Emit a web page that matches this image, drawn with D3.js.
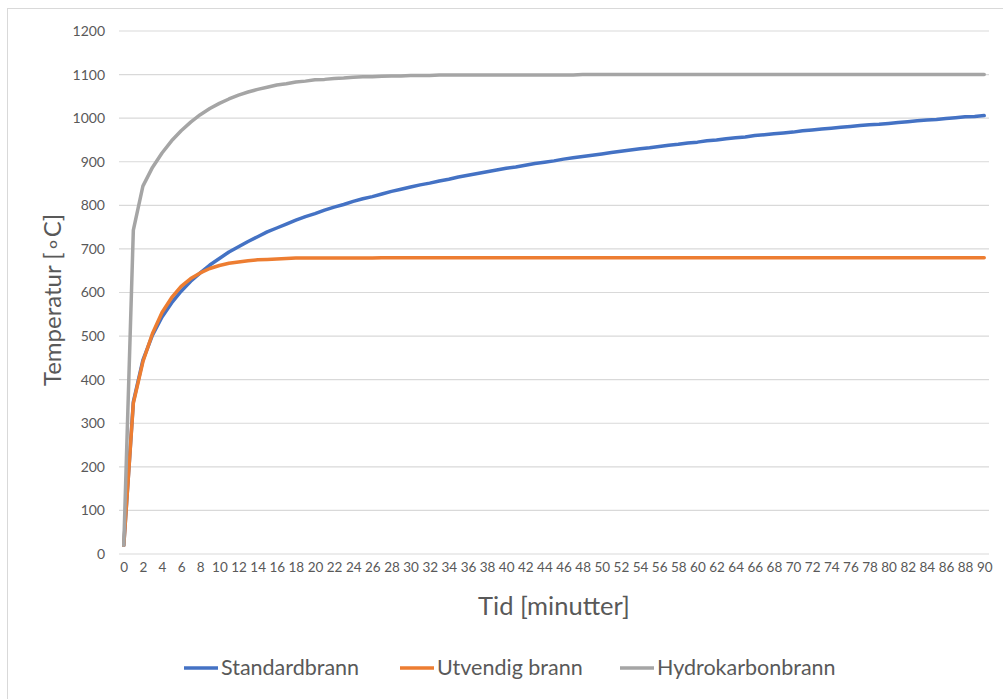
<!DOCTYPE html>
<html>
<head>
<meta charset="utf-8">
<script src="https://cdn.jsdelivr.net/npm/d3@7"></script>
<style>
  body { margin: 0; background: #fff; }
  svg { display: block; font-family: Lato, 'Open Sans', sans-serif; }
</style>
</head>
<body>
<svg width="1003" height="699"></svg>
<script>
// minutes 0..90
const minutes = d3.range(0, 91)
const xTicks = d3.range(0, 91, 2)
const yTicks = [0, 100, 200, 300, 400, 500, 600, 700, 800, 900, 1000, 1100, 1200]

const seriesNames = ['Standardbrann', 'Utvendig brann', 'Hydrokarbonbrann']
const seriesColors = ['#4472c4', '#ed7d31', '#a5a5a5']

// values, one per minute
const standardbrann = [
  20, 349, 445, 502, 544, 576, 603, 626, 645, 663,
  678, 693, 705, 717, 728, 739, 748, 757, 766, 774,
  781, 789, 796, 802, 809, 815, 820, 826, 832, 837,
  842, 847, 851, 856, 860, 865, 869, 873, 877, 881,
  885, 888, 892, 896, 899, 902, 906, 909, 912, 915,
  918, 921, 924, 927, 930, 932, 935, 938, 940, 943,
  945, 948, 950, 953, 955, 957, 960, 962, 964, 966,
  968, 971, 973, 975, 977, 979, 981, 983, 985, 986,
  988, 990, 992, 994, 996, 997, 999, 1001, 1003, 1004,
  1006
]
const utvendig = [
  20, 346, 441, 506, 554, 588, 614, 632, 645, 655,
  662, 667, 670, 673, 675, 676, 677, 678, 679, 679,
  679, 679, 679, 679, 679, 679, 679, 680, 680, 680,
  680, 680, 680, 680, 680, 680, 680, 680, 680, 680,
  680, 680, 680, 680, 680, 680, 680, 680, 680, 680,
  680, 680, 680, 680, 680, 680, 680, 680, 680, 680,
  680, 680, 680, 680, 680, 680, 680, 680, 680, 680,
  680, 680, 680, 680, 680, 680, 680, 680, 680, 680,
  680, 680, 680, 680, 680, 680, 680, 680, 680, 680,
  680
]
const hydrokarbon = [
  20, 743, 844, 887, 920, 948, 971, 991, 1008, 1022,
  1034, 1044, 1053, 1060, 1066, 1071, 1076, 1079, 1083, 1085,
  1088, 1089, 1091, 1092, 1094, 1095, 1095, 1096, 1097, 1097,
  1098, 1098, 1098, 1099, 1099, 1099, 1099, 1099, 1099, 1099,
  1099, 1099, 1099, 1099, 1099, 1099, 1099, 1099, 1100, 1100,
  1100, 1100, 1100, 1100, 1100, 1100, 1100, 1100, 1100, 1100,
  1100, 1100, 1100, 1100, 1100, 1100, 1100, 1100, 1100, 1100,
  1100, 1100, 1100, 1100, 1100, 1100, 1100, 1100, 1100, 1100,
  1100, 1100, 1100, 1100, 1100, 1100, 1100, 1100, 1100, 1100,
  1100
]
const seriesValues = [standardbrann, utvendig, hydrokarbon]

const svg = d3.select('svg')
const plot = { left: 119, right: 989, top: 31, bottom: 554 }

// chart frame
svg.append('rect')
  .attr('x', 7.5).attr('y', 8.5)
  .attr('width', 1010).attr('height', 710)
  .attr('fill', '#fff')
  .attr('stroke', '#d9d9d9')

const x = d3.scalePoint()
  .domain(minutes)
  .range([plot.left, plot.right])
  .padding(0.5)

const y = d3.scaleLinear()
  .domain([0, 1200])
  .range([plot.bottom, plot.top])

// gridlines
svg.append('g')
  .selectAll('line')
  .data(yTicks)
  .join('line')
  .attr('x1', plot.left).attr('x2', plot.right)
  .attr('y1', d => y(d)).attr('y2', d => y(d))
  .attr('stroke', '#d9d9d9')
  .attr('stroke-width', 1.2)

// y axis labels
const yAxis = svg.append('g')
  .attr('transform', `translate(${plot.left - 14},0)`)
  .call(d3.axisLeft(y).tickValues(yTicks).tickFormat(d3.format('d')).tickSize(0).tickPadding(0))
yAxis.select('.domain').remove()
yAxis.selectAll('text')
  .attr('fill', '#595959')
  .attr('font-size', 14)
  .attr('font-family', 'Lato, sans-serif')

// x axis labels
const xAxis = svg.append('g')
  .attr('transform', `translate(0,${plot.bottom + 8})`)
  .call(d3.axisBottom(x).tickValues(xTicks).tickSize(0).tickPadding(0))
xAxis.select('.domain').remove()
xAxis.selectAll('text')
  .attr('fill', '#595959')
  .attr('font-size', 13.5)
  .attr('font-family', 'Lato, sans-serif')

// series lines
const line = d3.line()
  .x((d, i) => x(minutes[i]))
  .y(d => y(d))

svg.append('g')
  .selectAll('path')
  .data(seriesValues)
  .join('path')
  .attr('d', line)
  .attr('fill', 'none')
  .attr('stroke', (d, i) => seriesColors[i])
  .attr('stroke-width', 3.5)
  .attr('stroke-linejoin', 'round')
  .attr('stroke-linecap', 'round')

// axis titles
svg.append('text')
  .attr('transform', 'translate(61,300) rotate(-90)')
  .attr('text-anchor', 'middle')
  .attr('fill', '#595959')
  .attr('font-size', 24)
  .text('Temperatur  [\u2218C]')

svg.append('text')
  .attr('x', 554).attr('y', 615)
  .attr('text-anchor', 'middle')
  .attr('fill', '#595959')
  .attr('font-size', 25.5)
  .text('Tid [minutter]')

// legend
const legendX = [184, 400, 620]
const legend = svg.append('g')
  .selectAll('g')
  .data(seriesNames)
  .join('g')
  .attr('transform', (d, i) => `translate(${legendX[i]},668)`)

legend.append('line')
  .attr('x1', 0).attr('x2', 34)
  .attr('stroke', (d, i) => seriesColors[i])
  .attr('stroke-width', 3.5)

legend.append('text')
  .attr('x', 37).attr('y', 7)
  .attr('fill', '#595959')
  .attr('font-size', 21.5)
  .text(d => d)
</script>
</body>
</html>
